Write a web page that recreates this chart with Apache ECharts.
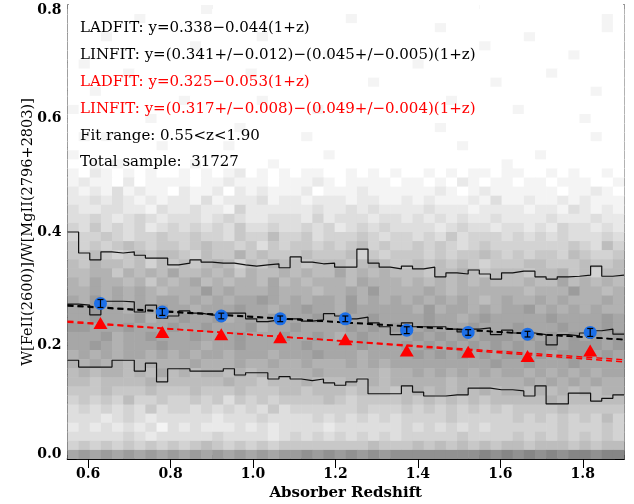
<!DOCTYPE html>
<html><head><meta charset="utf-8">
<script src="https://cdn.jsdelivr.net/npm/echarts@6/dist/echarts.min.js"></script>
<style>html,body{margin:0;padding:0;background:#fff}#c{width:634px;height:504px}</style>
</head><body><div id="c"></div>
<script>
// ---- data ----
const xMin = 0.55, xMax = 1.9, yMin = 0, yMax = 0.8;
const binZ = 0.027, binY = 0.016;
const xMajor = [0.6, 0.8, 1.0, 1.2, 1.4, 1.6, 1.8];
const xMinor = [0.55,0.65,0.7,0.75,0.85,0.9,0.95,1.05,1.1,1.15,1.25,1.3,1.35,1.45,1.5,1.55,1.65,1.7,1.75,1.85,1.9];
// 2D histogram grey levels (0 = white ... f = dark), rows top (y=0.8) to bottom (y=0)
const heatRows = [
"0000000000 0010000000 0000000000 0000000000 0000000000",
"0000001000 0000000000 0000010000 0000000000 0000000010",
"0000000000 0000000000 0000000000 0001000000 0000000010",
"0001000000 0000000100 0000000000 0000000000 0100000000",
"0000000000 0100000000 0000000000 0000000100 0000000000",
"0000000000 0000000000 0001000000 0000000000 0000010000",
"0100000000 0000000000 0000000000 0100000000 0000000000",
"0000010000 0000001000 0000000000 0000000000 0001000000",
"0000000000 0000000000 0000000100 0000000010 0000000000",
"0010000000 0000000000 0000000000 0000000000 0000000100",
"0000000000 1000000100 0000000000 0000100000 0000000000",
"1000000000 0000000000 0010000000 0000000000 1000000000",
"0000000100 0000000000 0000000000 0000000000 0000001000",
"0000000000 0000010000 0000000000 0001000000 0000000000",
"0101000000 0000000000 0100000000 0000000000 0000000100",
"0000000010 0000100000 0000000000 0000010000 0000000000",
"1000000000 0000000000 0001000000 0000000000 0010000000",
"0010100000 0100000010 0000000000 0000000001 0000000000",
"1021010100 1010120101 0110010101 0010101101 1001010010",
"1211020111 1011211101 1121011110 1101021011 0110111001",
"2121312110 2112021211 1201112111 1112101211 1111011210",
"2232321212 2131222312 2122212211 2121112131 1211212111",
"3223322132 2322142222 2232232322 2232221222 2122132121",
"3343234323 3323432233 3242333233 2323232232 2223222322",
"4353434234 3434353343 3434234343 3332343323 3232433232",
"4445434454 4544354464 4534445434 4343534443 4343433343",
"5454565455 4565545354 5545456454 4545434544 4444454364",
"5565456566 5465575655 5655564545 5545455654 5455465445",
"6576656465 6567646576 6566656765 5656565455 5665556556",
"6677576768 6676757667 6766867676 6656676566 6566756466",
"7687767576 7867677686 7677768777 6767676766 6766867676",
"7787878767 7797877787 7767787977 7787677777 7677797767",
"8797878788 7878788987 8788797878 7878787678 7787877787",
"8898878898 8788898878 8988798888 8797887878 8978787877",
"8898889788 9889788898 8898888988 8898878988 8889888898",
"9988898889 8898889788 9888898989 8898889888 9888988898",
"8889788988 8988898889 8898789888 8989898999 8989898989",
"8898788898 8878898888 8988889888 9898989898 9899899989",
"7878788787 8788788878 8898887888 8989898989 9898999898",
"7787767777 7877787787 7877787878 8888888898 8988898888",
"6767767686 7677676777 7787777767 7878787878 8787878788",
"6656666766 6666766566 6766676767 7777677777 7878787877",
"5556555655 5655565556 6566656665 6767676767 7676767677",
"4545464454 4545354545 5556545555 6565656566 6667666666",
"3434343534 4343434353 4444445444 5454545454 5555655555",
"3332343233 3332333433 3343434343 4444544444 5454545464",
"2323232313 2322232323 3332333333 4343434344 4444544454",
"3333343233 3334333323 4343434343 4444454444 5454545454",
"4545454545 4565454545 5555555655 5656565656 6566656566",
"8989898989 8989898989 9a9a9a9a9a aaaaaaabab abababbabb"
];
// percentile step lines, one value per redshift bin
const upperLine = [0.400,0.363,0.351,0.365,0.363,0.365,0.359,0.354,0.354,0.342,0.345,0.351,0.347,0.345,0.345,0.342,0.340,0.342,0.344,0.337,0.356,0.347,0.344,0.345,0.338,0.338,0.370,0.345,0.338,0.335,0.340,0.335,0.338,0.321,0.328,0.326,0.333,0.326,0.317,0.328,0.331,0.331,0.321,0.317,0.321,0.322,0.324,0.340,0.322,0.324];
const medianLine = [0.273,0.271,0.254,0.278,0.278,0.277,0.259,0.271,0.248,0.252,0.261,0.257,0.254,0.252,0.257,0.257,0.247,0.242,0.245,0.247,0.247,0.243,0.245,0.256,0.252,0.247,0.250,0.240,0.233,0.219,0.240,0.233,0.233,0.233,0.229,0.224,0.229,0.231,0.219,0.227,0.222,0.222,0.219,0.201,0.219,0.217,0.222,0.226,0.229,0.220];
const lowerLine = [0.174,0.162,0.162,0.162,0.174,0.174,0.155,0.169,0.136,0.159,0.159,0.155,0.155,0.155,0.159,0.148,0.152,0.152,0.141,0.145,0.141,0.138,0.141,0.134,0.130,0.136,0.141,0.115,0.115,0.115,0.129,0.118,0.111,0.111,0.113,0.113,0.125,0.125,0.122,0.122,0.120,0.111,0.129,0.097,0.097,0.116,0.116,0.102,0.107,0.113];
// binned medians
const binCenters = [0.630,0.780,0.923,1.066,1.224,1.373,1.522,1.666,1.818];
const allY = [0.274,0.259,0.252,0.247,0.247,0.227,0.223,0.220,0.223];
const allErr = [0.007,0.006,0.005,0.005,0.005,0.006,0.005,0.005,0.007];
const strongY = [0.2396,0.224,0.220,0.2144,0.211,0.191,0.189,0.1815,0.191];
// fit coefficients y = a - b(1+z)
const blackFits = [[0.338,0.044],[0.341,0.045]];
const redFits = [[0.325,0.053],[0.317,0.049]];
const notes = [
  {t:"LADFIT: y=0.338\u22120.044(1+z)", c:"#000"},
  {t:"LINFIT: y=(0.341+/\u22120.012)\u2212(0.045+/\u22120.005)(1+z)", c:"#000"},
  {t:"LADFIT: y=0.325\u22120.053(1+z)", c:"#ff0000"},
  {t:"LINFIT: y=(0.317+/\u22120.008)\u2212(0.049+/\u22120.004)(1+z)", c:"#ff0000"},
  {t:"Fit range: 0.55<z<1.90", c:"#000"},
  {t:"Total sample:  31727", c:"#000"}
];

// ---- build ----
const heatData = [];
heatRows.forEach((row, r) => {
  const s = row.replace(/ /g, '');
  const j = heatRows.length - 1 - r;
  for (let i = 0; i < s.length; i++) {
    heatData.push([xMin + i * binZ, yMin + j * binY, parseInt(s[i], 16)]);
  }
});
function stepData(vals) {
  const d = vals.map((v, i) => [xMin + i * binZ, v]);
  d.push([xMin + vals.length * binZ, vals[vals.length - 1]]);
  return d;
}
function fitData(f) { return [[xMin, f[0] - f[1] * (1 + xMin)], [xMax, f[0] - f[1] * (1 + xMax)]]; }

const FONT = 'DejaVu Serif';
const gridRect = {left: 67.5, right: 10, top: 5, bottom: 45, outerBoundsMode: 'none', containLabel: false};
const axLine = {show: true, lineStyle: {color: '#000', width: 1.5}};
const tickStyle = {color: '#000', width: 1};

const series = [
  {
    type: 'custom', xAxisIndex: 0, yAxisIndex: 0, clip: true, silent: true, z: 1,
    data: heatData,
    renderItem: function (params, api) {
      const x0 = api.value(0), y0 = api.value(1), lv = api.value(2);
      const p0 = api.coord([x0, y0]);
      const p1 = api.coord([x0 + binZ, y0 + binY]);
      const g = Math.round(255 - lv * 11);
      return {type: 'rect', shape: {x: p0[0], y: p1[1], width: p1[0] - p0[0] + 0.6, height: p0[1] - p1[1] + 0.6},
        style: {fill: 'rgb(' + g + ',' + g + ',' + g + ')'}};
    }
  }
];
[upperLine, medianLine, lowerLine].forEach(v => series.push({
  type: 'line', step: 'end', data: stepData(v), symbol: 'none', z: 3, silent: true,
  lineStyle: {color: '#111', width: 1.2}
}));
blackFits.forEach(f => series.push({type: 'line', data: fitData(f), symbol: 'none', z: 4, silent: true,
  lineStyle: {color: '#000', width: 1.5, type: [6, 4]}}));
redFits.forEach(f => series.push({type: 'line', data: fitData(f), symbol: 'none', z: 4, silent: true,
  lineStyle: {color: '#ff0000', width: 1.5, type: [6, 4]}}));
series.push({type: 'scatter', data: binCenters.map((z, i) => [z, allY[i]]), symbol: 'circle', symbolSize: 13, z: 5,
  itemStyle: {color: '#1c6fe8', opacity: 1}});
series.push({type: 'custom', z: 6, silent: true, data: binCenters.map((z, i) => [z, allY[i], allErr[i]]),
  renderItem: function (params, api) {
    const z = api.value(0), y = api.value(1), e = api.value(2);
    const hi = api.coord([z, y + e]), lo = api.coord([z, y - e]);
    const w = 3;
    return {type: 'group', children: [
      {type: 'line', shape: {x1: hi[0], y1: hi[1], x2: lo[0], y2: lo[1]}, style: {stroke: '#000', lineWidth: 1.2}},
      {type: 'line', shape: {x1: hi[0] - w, y1: hi[1], x2: hi[0] + w, y2: hi[1]}, style: {stroke: '#000', lineWidth: 1.2}},
      {type: 'line', shape: {x1: lo[0] - w, y1: lo[1], x2: lo[0] + w, y2: lo[1]}, style: {stroke: '#000', lineWidth: 1.2}}
    ]};
  }});
series.push({type: 'scatter', data: binCenters.map((z, i) => [z, strongY[i]]), symbol: 'triangle', symbolSize: [14, 12], z: 5,
  itemStyle: {color: '#ff0000', opacity: 1}});

const chart = echarts.init(document.getElementById('c'), null, {renderer: 'canvas'});
chart.setOption({
  animation: false,
  backgroundColor: '#fff',
  grid: [Object.assign({}, gridRect), Object.assign({}, gridRect)],
  xAxis: [
    {type: 'value', gridIndex: 0, position: 'bottom', min: xMin, max: xMax, axisLine: axLine,
      axisTick: {show: true, inside: true, length: 9, customValues: xMajor, lineStyle: tickStyle},
      axisLabel: {show: true, customValues: xMajor, margin: 8, formatter: v => v.toFixed(1),
        fontFamily: FONT, fontWeight: 'bold', fontSize: 14, color: '#000'},
      splitLine: {show: false},
      name: 'Absorber Redshift', nameLocation: 'middle', nameGap: 27, nameMoveOverlap: false,
      nameTextStyle: {fontFamily: FONT, fontWeight: 'bold', fontSize: 15, color: '#000'}},
    {type: 'value', gridIndex: 0, position: 'top', min: xMin, max: xMax, axisLine: axLine,
      axisTick: {show: true, inside: true, length: 9, customValues: xMajor, lineStyle: tickStyle},
      axisLabel: {show: false}, splitLine: {show: false}},
    {type: 'value', gridIndex: 1, position: 'bottom', min: xMin, max: xMax, axisLine: {show: false},
      axisTick: {show: true, inside: true, length: 4, customValues: xMinor, lineStyle: tickStyle},
      axisLabel: {show: false}, splitLine: {show: false}},
    {type: 'value', gridIndex: 1, position: 'top', min: xMin, max: xMax, axisLine: {show: false},
      axisTick: {show: true, inside: true, length: 4, customValues: xMinor, lineStyle: tickStyle},
      axisLabel: {show: false}, splitLine: {show: false}}
  ],
  yAxis: [
    {type: 'value', gridIndex: 0, position: 'left', min: yMin, max: yMax, interval: 0.2, axisLine: axLine,
      axisTick: {show: true, inside: true, length: 9, lineStyle: tickStyle},
      minorTick: {show: true, splitNumber: 4, length: 4, lineStyle: tickStyle},
      axisLabel: {show: true, margin: 6, fontFamily: FONT, fontWeight: 'bold', fontSize: 14, color: '#000',
        formatter: v => v >= 0.79 ? '{t|' + v.toFixed(1) + '}' : (v < 0.01 ? '{b|' + v.toFixed(1) + '}' : v.toFixed(1)),
        rich: {t: {padding: [10, 0, 0, 0], fontFamily: FONT, fontWeight: 'bold', fontSize: 14, color: '#000'},
               b: {padding: [0, 0, 10, 0], fontFamily: FONT, fontWeight: 'bold', fontSize: 14, color: '#000'}}},
      splitLine: {show: false},
      name: 'W[FeII(2600)]/W[MgII(2796+2803)]', nameLocation: 'middle', nameGap: 32, nameRotate: 90, nameMoveOverlap: false,
      nameTextStyle: {fontFamily: FONT, fontSize: 14.5, color: '#000'}},
    {type: 'value', gridIndex: 0, position: 'right', min: yMin, max: yMax, interval: 0.2, axisLine: axLine,
      axisTick: {show: true, inside: true, length: 9, lineStyle: tickStyle},
      minorTick: {show: true, splitNumber: 4, length: 4, lineStyle: tickStyle},
      axisLabel: {show: false}, splitLine: {show: false}},
    {type: 'value', gridIndex: 1, min: yMin, max: yMax, show: false}
  ],
  graphic: notes.map((n, i) => ({
    type: 'text', left: 80, top: 21 + i * 26.8, z: 100,
    style: {text: n.t, fill: n.c, font: '15px "' + FONT + '"'}
  })),
  series: series
});
</script></body></html>
